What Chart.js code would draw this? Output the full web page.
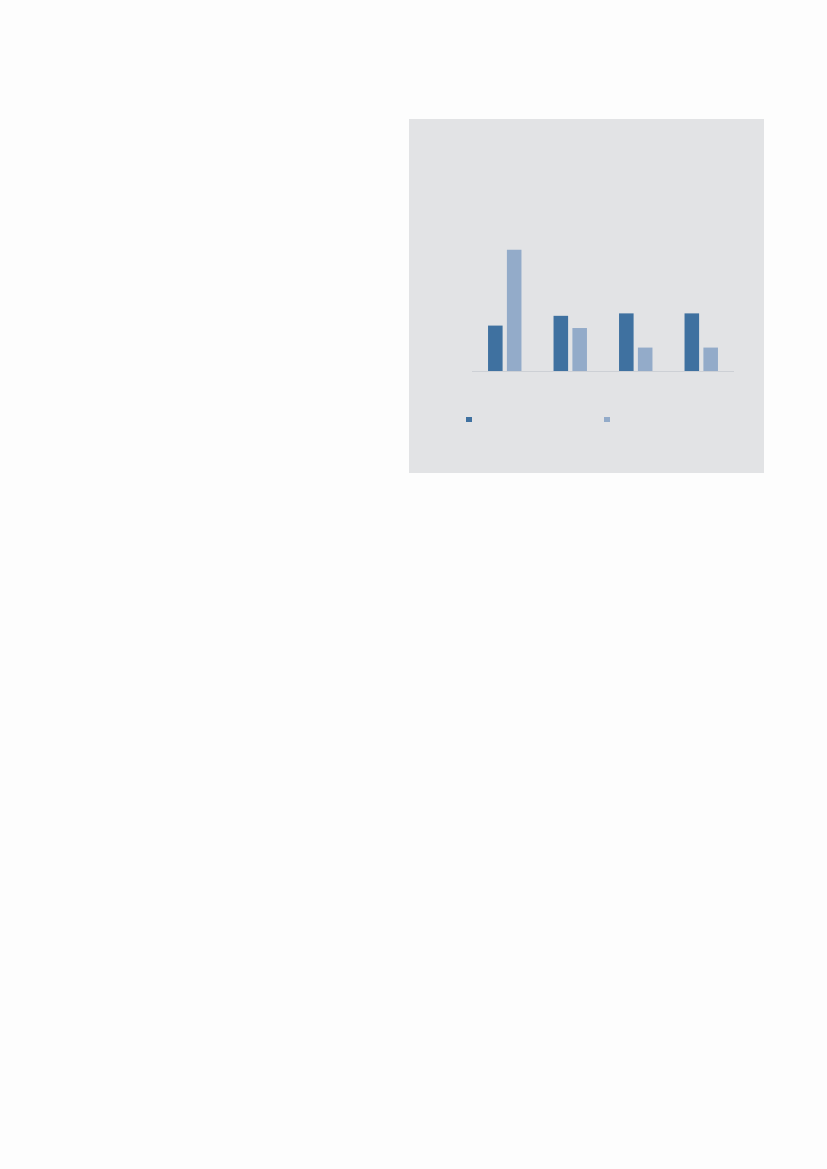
<!DOCTYPE html>
<html>
<head>
<meta charset="utf-8">
<script src="https://cdn.jsdelivr.net/npm/chart.js@4"></script>
<style>
  html, body { margin: 0; padding: 0; background: #fdfdfd; width: 827px; height: 1169px; overflow: hidden; font-family: "Liberation Sans", Arial, sans-serif; }
  #panel { position: absolute; left: 409px; top: 119px; width: 355px; height: 354px; background: #e2e3e5; }
  #wrap { position: absolute; left: 63px; top: 104px; width: 262px; height: 149px; }
  .lg { position: absolute; top: 298px; width: 6px; height: 5px; }
</style>
</head>
<body>
<div id="panel">
  <div id="wrap"><canvas id="c"></canvas></div>
  <div class="lg" id="lg0" style="left:57px;"></div>
  <div class="lg" id="lg1" style="left:195px;"></div>
</div>
<script>
const categories = ["", "", "", ""];
const seriesNames = ["", ""];
const seriesA = [19, 23, 24, 24];
const seriesB = [50, 18, 10, 10];
const colors = ["#3f71a0", "#93abc9"];

document.getElementById('lg0').style.background = colors[0];
document.getElementById('lg1').style.background = colors[1];

new Chart(document.getElementById('c'), {
  type: 'bar',
  data: {
    labels: categories,
    datasets: [
      { label: seriesNames[0], data: seriesA, backgroundColor: colors[0], borderWidth: 0 },
      { label: seriesNames[1], data: seriesB, backgroundColor: colors[1], borderWidth: 0 }
    ]
  },
  options: {
    responsive: true,
    maintainAspectRatio: false,
    animation: false,
    devicePixelRatio: 1,
    layout: { padding: 0 },
    datasets: { bar: { categoryPercentage: 0.576, barPercentage: 0.772 } },
    plugins: { legend: { display: false }, tooltip: { enabled: false }, title: { display: false } },
    scales: {
      x: {
        display: true,
        grid: { display: false, drawTicks: false },
        ticks: { display: false },
        border: { display: true, color: '#cdd0d5', width: 1.5, z: 1 }
      },
      y: {
        display: false,
        min: 0,
        max: 61
      }
    }
  }
});
</script>
</body>
</html>
